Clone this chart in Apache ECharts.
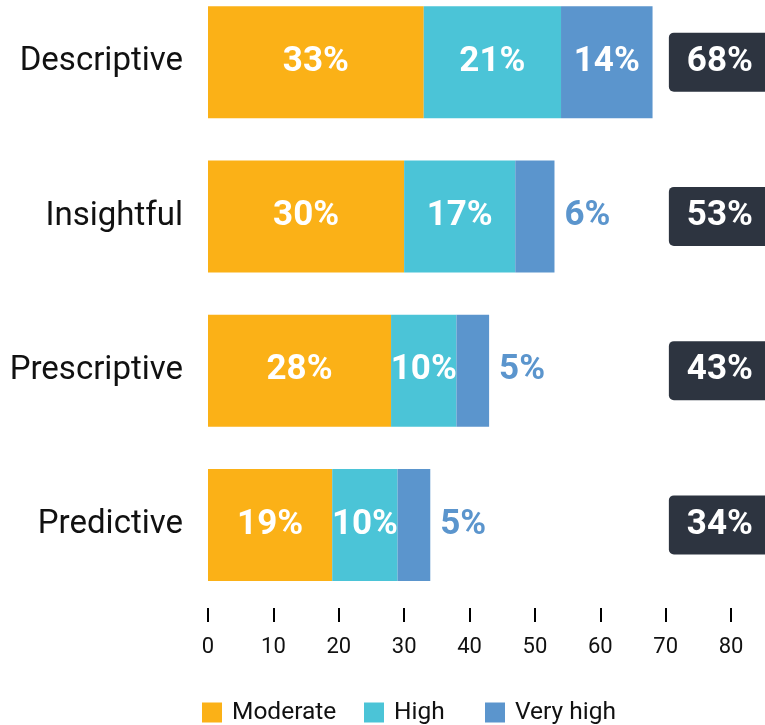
<!DOCTYPE html>
<html>
<head>
<meta charset="utf-8">
<script src="https://cdn.jsdelivr.net/npm/echarts@6/dist/echarts.min.js"></script>
<style>html,body{margin:0;padding:0;background:#fff}#c{width:765px;height:725px}</style>
</head>
<body>
<div id="c"></div>
<script>
const categories = ['Descriptive', 'Insightful', 'Prescriptive', 'Predictive'];
const moderate = [33, 30, 28, 19];
const high = [21, 17, 10, 10];
const veryHigh = [14, 6, 5, 5];
const xTicks = [0, 10, 20, 30, 40, 50, 60, 70, 80];
const seriesNames = ['Moderate', 'High', 'Very high'];

const COLORS = { moderate: '#FBB117', high: '#4BC4D7', veryHigh: '#5B95CD', box: '#2D3440' };
const FONT = 'Roboto';
const BOX_X = 78.3;
const LEGEND_LEFT = [202, 364, 485];

const totals = categories.map((c, i) => moderate[i] + high[i] + veryHigh[i]);

function segData(arr, color) {
  return arr.map(v => {
    const inside = v >= 10;
    return {
      value: v,
      label: inside
        ? { position: 'inside', color: '#fff' }
        : { position: 'right', distance: 10, color: color }
    };
  });
}

const labelBase = {
  show: true,
  formatter: p => p.value + '%',
  fontFamily: FONT,
  fontWeight: 'bold',
  fontSize: 35
};

const legends = seriesNames.map((n, i) => ({
  left: LEGEND_LEFT[i], top: 700, padding: 0,
  icon: 'rect', itemWidth: 20, itemHeight: 20,
  textStyle: { fontFamily: FONT, fontSize: 24.5, color: '#111', padding: [0, 0, 0, 5] },
  data: [n]
}));

const chart = echarts.init(document.getElementById('c'), null, { renderer: 'canvas' });
chart.setOption({
  animation: false,
  textStyle: { fontFamily: FONT },
  grid: { left: 208, right: 34, top: -15, bottom: 123, containLabel: false, outerBoundsMode: 'none' },
  legend: legends,
  xAxis: {
    type: 'value', min: 0, max: 80, interval: 10,
    offset: 6,
    axisLine: { show: false },
    axisTick: { show: true, length: 14, lineStyle: { color: '#000', width: 2 } },
    splitLine: { show: false },
    axisLabel: { fontFamily: FONT, fontSize: 22, color: '#111', margin: 28,
      formatter: v => xTicks.includes(v) ? String(v) : '' }
  },
  yAxis: {
    type: 'category', data: categories, inverse: true,
    axisLine: { show: false }, axisTick: { show: false },
    axisLabel: { fontFamily: FONT, fontSize: 33, color: '#111', margin: 25 }
  },
  series: [
    { name: seriesNames[0], type: 'bar', stack: 't', barWidth: 112,
      itemStyle: { color: COLORS.moderate }, label: labelBase,
      data: segData(moderate, COLORS.moderate) },
    { name: seriesNames[1], type: 'bar', stack: 't', barWidth: 112,
      itemStyle: { color: COLORS.high }, label: labelBase,
      data: segData(high, COLORS.high) },
    { name: seriesNames[2], type: 'bar', stack: 't', barWidth: 112,
      itemStyle: { color: COLORS.veryHigh }, label: labelBase,
      data: segData(veryHigh, COLORS.veryHigh) },
    { name: 'Total', type: 'scatter', symbolSize: 1,
      itemStyle: { color: 'rgba(0,0,0,0)', opacity: 1 }, silent: true, z: 5,
      label: {
        show: true, position: 'inside',
        formatter: p => p.data.total + '%',
        fontFamily: FONT, fontWeight: 'bold', fontSize: 35, lineHeight: 35, color: '#fff',
        backgroundColor: COLORS.box, borderRadius: 5, padding: [12, 18]
      },
      data: categories.map((c, i) => ({ value: [BOX_X, c], total: totals[i] }))
    }
  ]
});
</script>
</body>
</html>
